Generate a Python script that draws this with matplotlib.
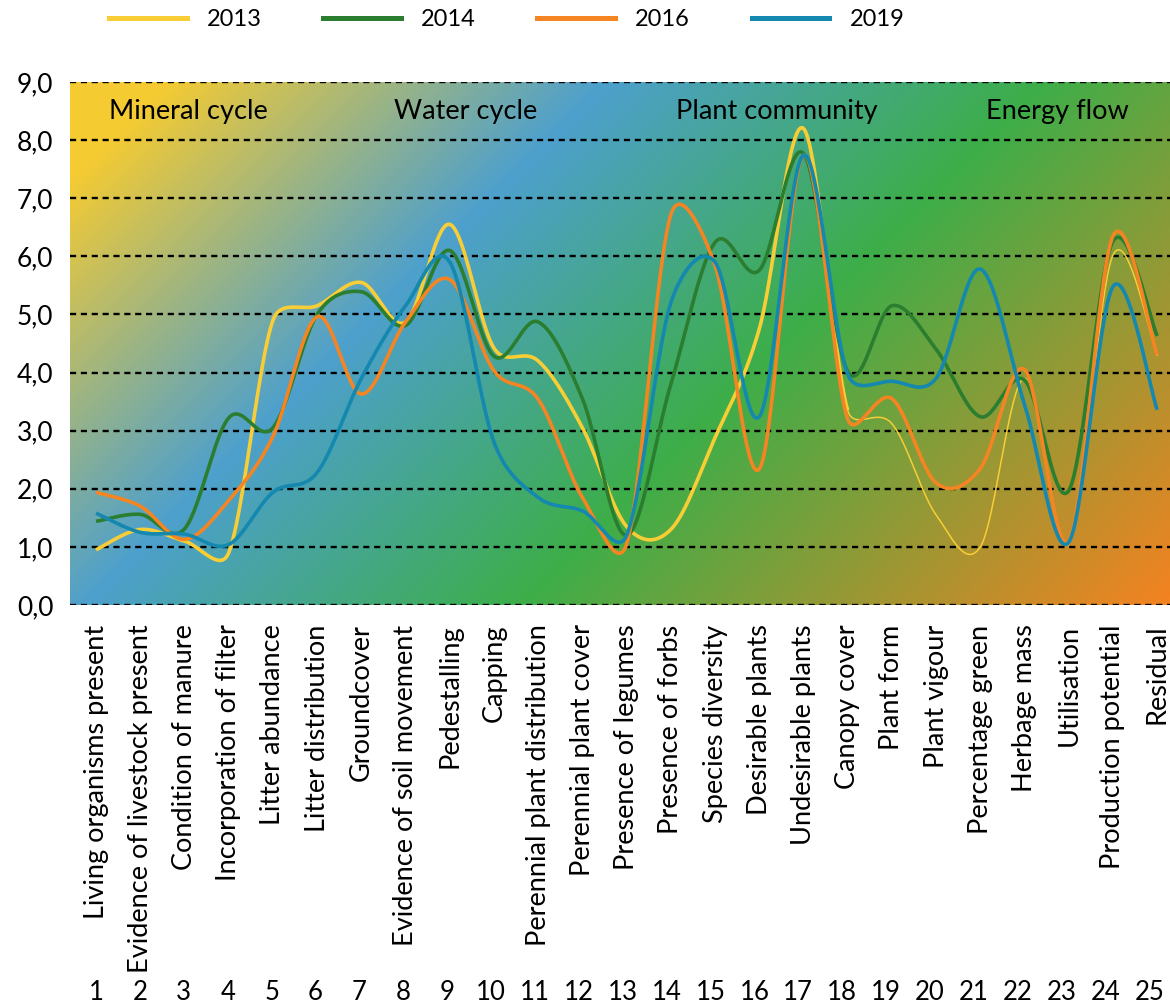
import matplotlib
matplotlib.use("Agg")
import matplotlib.pyplot as plt
import matplotlib.transforms as mtransforms
from matplotlib.colors import to_rgb
from matplotlib.lines import Line2D
import numpy as np

plt.rcParams['font.family'] = ['Lato', 'DejaVu Sans']

# ---- data -------------------------------------------------------------
categories = [
    "Living organisms present", "Evidence of livestock present",
    "Condition of manure", "Incorporation of filter", "Litter abundance",
    "Litter distribution", "Groundcover", "Evidence of soil movement",
    "Pedestalling", "Capping", "Perennial plant distribution",
    "Perennial plant cover", "Presence of legumes", "Presence of forbs",
    "Species diversity", "Desirable plants", "Undesirable plants",
    "Canopy cover", "Plant form", "Plant vigour", "Percentage green",
    "Herbage mass", "Utilisation", "Production potential", "Residual",
]
numbers = list(range(1, 26))

y2013 = [0.95, 1.30, 1.10, 0.90, 4.90, 5.15, 5.55, 4.87, 6.55, 4.42, 4.20,
         3.05, 1.35, 1.30, 2.88, 4.75, 8.20, 3.35, 3.12, 1.55, 1.00, 3.90,
         1.05, 6.02, 4.30]
y2014 = [1.44, 1.56, 1.31, 3.22, 3.05, 5.00, 5.39, 4.81, 6.10, 4.28, 4.87,
         3.55, 1.20, 3.80, 6.24, 5.76, 7.77, 4.02, 5.15, 4.40, 3.24, 3.87,
         1.97, 6.26, 4.63]
y2016 = [1.94, 1.70, 1.13, 1.80, 2.90, 4.96, 3.63, 4.87, 5.60, 4.03, 3.54,
         1.85, 1.05, 6.72, 5.84, 2.34, 7.74, 3.20, 3.55, 2.10, 2.35, 4.05,
         1.10, 6.35, 4.30]
y2019 = [1.58, 1.25, 1.22, 1.04, 1.94, 2.28, 3.90, 5.15, 5.90, 2.80, 1.85,
         1.62, 1.20, 5.20, 5.90, 3.24, 7.74, 3.97, 3.85, 3.90, 5.78, 3.45,
         1.08, 5.48, 3.36]

groups = ["Mineral cycle", "Water cycle", "Plant community", "Energy flow"]
group_pos = [3.08, 9.35, 16.4, 22.74]

series = [("2013", y2013, "#F9CD35"), ("2014", y2014, "#2B7E2F"),
          ("2016", y2016, "#F58423"), ("2019", y2019, "#1488AE")]

# pixel size of one category / one unit, used for the smoothing
PX_X, PX_Y = 44.2, 58.1


def smooth(x, y, n=40, clamp=0.5):
    """Spreadsheet-like smoothed line: Bezier through the points, control
    points (P[i+1]-P[i-1])/6, shortened next to short segments."""
    P = np.column_stack([np.asarray(x, float) * PX_X,
                         np.asarray(y, float) * PX_Y])
    k = len(P)
    cin = P.copy()
    cout = P.copy()
    for i in range(k):
        a = P[max(i - 1, 0)]
        b = P[min(i + 1, k - 1)]
        v = (b - a) / 6
        nv = np.hypot(*v)
        if nv == 0:
            continue
        if i > 0:
            lim = clamp * np.hypot(*(P[i] - P[i - 1]))
            cin[i] = P[i] - v * min(1, lim / nv)
        if i < k - 1:
            lim = clamp * np.hypot(*(P[i + 1] - P[i]))
            cout[i] = P[i] + v * min(1, lim / nv)
    t = np.linspace(0, 1, n, endpoint=False)[:, None]
    pts = []
    for i in range(k - 1):
        p0, p1, p2, p3 = P[i], cout[i], cin[i + 1], P[i + 1]
        pts.append((1 - t)**3 * p0 + 3 * (1 - t)**2 * t * p1
                   + 3 * (1 - t) * t**2 * p2 + t**3 * p3)
    pts.append(P[-1:])
    pts = np.vstack(pts)
    return pts[:, 0] / PX_X, pts[:, 1] / PX_Y


fig = plt.figure(figsize=(11.7, 10.08), dpi=100)
ax = fig.add_axes([70 / 1170, 1 - 605 / 1008, 1100 / 1170, 523 / 1008])

# diagonal gradient background
W, H = 1100, 523
xx, yy = np.meshgrid(np.arange(W), np.arange(H))
t = (xx + yy) / (W + H - 2)
stops = [0.0, 0.06, 0.33, 0.6, 1.0]
cols = [to_rgb(c) for c in ["#F5CB32", "#F5CB32", "#4DA0CD", "#3DAE49", "#F58220"]]
img = np.zeros((H, W, 3))
for c in range(3):
    img[..., c] = np.interp(t, stops, [col[c] for col in cols])
ax.imshow(img, extent=[0, 1, 0, 1], transform=ax.transAxes, aspect='auto',
          zorder=0, interpolation='bilinear')

for v in range(10):
    ax.axhline(v, color='black', lw=1.7, ls=(0, (2.6, 2.0)), zorder=1)

for name, vals, color in series:
    sx, sy = smooth(numbers, vals)
    if name == "2013":
        ax.plot(sx[sx <= 18], sy[sx <= 18], color=color, lw=2.6, zorder=3,
                solid_capstyle='butt')
        ax.plot(sx[sx >= 18], sy[sx >= 18], color=color, lw=1.1, zorder=3)
    else:
        ax.plot(sx, sy, color=color, lw=2.6, zorder=3, solid_capstyle='butt')

for label, xpos in zip(groups, group_pos):
    ax.text(xpos, 8.49, label, ha='center', va='center', fontsize=19.5,
            color='black', zorder=4)

ax.set_xlim(0.41, 25.29)
ax.set_ylim(0, 9)
ax.set_yticks(range(10))
ax.set_yticklabels([f"{v},0" for v in range(10)], fontsize=19)
ax.set_xticks(numbers)
ax.set_xticklabels(categories, rotation=90, ha='center', va='top', fontsize=19.5)
ax.tick_params(length=0)
ax.tick_params(axis='y', pad=12)
ax.tick_params(axis='x', pad=14)
for s in ax.spines.values():
    s.set_visible(False)

# the row of category numbers sits on a slightly narrower pitch
trans = mtransforms.blended_transform_factory(ax.transData, ax.transAxes)
for n in numbers:
    ax.text(1 + (n - 1) * 0.9926, (605 - 993) / 523, str(n), transform=trans,
            ha='center', va='center', fontsize=18.5)

handles = [Line2D([], [], color=c, lw=3.6) for _, _, c in series]
fig.legend(handles, [s[0] for s in series], loc='center',
           bbox_to_anchor=(0.433, 1 - 20 / 1008), ncol=4, frameon=False,
           fontsize=17, handlelength=3.3, handletextpad=0.85,
           columnspacing=2.6)

fig.savefig("out.png", dpi=100)
